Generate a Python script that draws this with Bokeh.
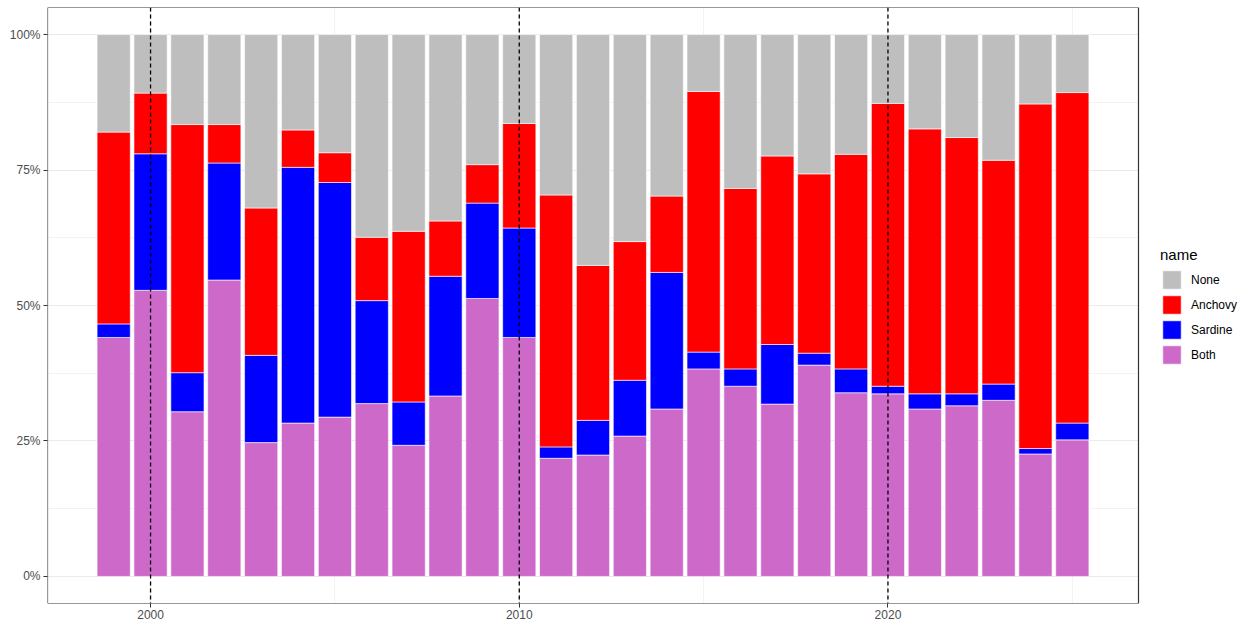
from bokeh.plotting import figure
from bokeh.models import (Range1d, FixedTicker, Span, Legend, LegendItem, ColumnDataSource,
                          BoxAnnotation)
from bokeh.embed import file_html
from bokeh.resources import INLINE

years = list(range(1999, 2026))
both = [44.1, 52.8, 30.4, 54.7, 24.7, 28.3, 29.4, 31.9, 24.2, 33.3, 51.3, 44.1, 21.8, 22.4,
        25.9, 30.9, 38.3, 35.1, 31.8, 39.0, 33.9, 33.7, 30.9, 31.5, 32.5, 22.6, 25.2]
sardine = [2.5, 25.2, 7.2, 21.6, 16.1, 47.2, 43.3, 19.0, 8.0, 22.1, 17.6, 20.2, 2.1, 6.4,
           10.3, 25.2, 3.1, 3.2, 11.0, 2.2, 4.4, 1.4, 2.8, 2.2, 3.0, 1.0, 3.1]
anchovy = [35.4, 11.2, 45.8, 7.1, 27.2, 6.9, 5.5, 11.7, 31.5, 10.2, 7.1, 19.3, 46.5, 28.6,
           25.6, 14.1, 48.1, 33.3, 34.8, 33.1, 39.6, 52.2, 48.9, 47.3, 41.3, 63.6, 61.0]
none = [18.0, 10.8, 16.6, 16.6, 32.0, 17.6, 21.8, 37.4, 36.3, 34.4, 24.0, 16.4, 29.6, 42.6,
        38.2, 29.8, 10.5, 28.4, 22.4, 25.7, 22.1, 12.7, 17.4, 19.0, 23.2, 12.8, 10.7]

series = ["both", "sardine", "anchovy", "none"]
labels = {"none": "None", "anchovy": "Anchovy", "sardine": "Sardine", "both": "Both"}
colors = ["#CD69C9", "#0000FF", "#FF0000", "#BEBEBE"]
y_ticks = [0, 25, 50, 75, 100]
y_tick_labels = ["0%", "25%", "50%", "75%", "100%"]
x_ticks = [2000, 2010, 2020]
vlines = [2000, 2010, 2020]

src = ColumnDataSource(dict(year=years, both=both, sardine=sardine, anchovy=anchovy, none=none))

FONT = "Liberation Sans"

# panel (data) extent, as ggplot expands it
X0, X1 = 1997.205, 2026.795
Y0, Y1 = -5, 105
W, H = 1242, 625
LEFT, TOP, BOTTOM = 47, 7, 22
PANEL_W = 1091
FRAME_W = W - LEFT
x_end = X0 + (X1 - X0) * FRAME_W / PANEL_W  # frame extends right to host the legend

p = figure(width=W, height=H, output_backend="svg", toolbar_location=None,
           x_range=Range1d(X0, x_end), y_range=Range1d(Y0, Y1),
           min_border_left=LEFT, min_border_right=0, min_border_top=TOP,
           min_border_bottom=BOTTOM)

renderers = p.vbar_stack(series, x="year", width=0.9, source=src, color=colors,
                         line_color="white", line_width=0.6)
rmap = dict(zip(series, renderers))

# white cover for the legend area (hides grid lines outside the panel)
cover = BoxAnnotation(left=X1, right=x_end, bottom=Y0, top=Y1, fill_color="white",
                      fill_alpha=1, line_color=None, level="glyph")
p.add_layout(cover)

for v in vlines:
    p.add_layout(Span(location=v, dimension="height", line_color="black",
                      line_dash="4 3", line_width=1.3))

border = BoxAnnotation(left=X0, right=X1, bottom=Y0, top=Y1, fill_alpha=0,
                       line_color="#333333", line_alpha=1, line_width=1.2)
p.add_layout(border)

# axes
p.yaxis.ticker = FixedTicker(ticks=y_ticks, minor_ticks=[12.5, 37.5, 62.5, 87.5])
p.yaxis.major_label_overrides = {t: l for t, l in zip(y_ticks, y_tick_labels)}
p.xaxis.ticker = FixedTicker(ticks=x_ticks, minor_ticks=[2005, 2015, 2025])
for ax in (p.xaxis, p.yaxis):
    ax.axis_line_color = None
    ax.major_tick_line_color = "#333333"
    ax.major_tick_out = 4
    ax.major_tick_in = 0
    ax.minor_tick_line_color = None
    ax.major_label_text_font = FONT
    ax.major_label_text_font_size = "12px"
    ax.major_label_text_color = "#4D4D4D"
    ax.major_label_standoff = 3
p.xaxis.major_label_standoff = 2

for g in (p.xgrid, p.ygrid):
    g.grid_line_color = "#EBEBEB"
    g.grid_line_width = 1.1
    g.minor_grid_line_color = "#EBEBEB"
    g.minor_grid_line_width = 0.6

p.outline_line_color = None
p.background_fill_color = "white"
p.border_fill_color = "white"

items = [LegendItem(label=labels[k], renderers=[rmap[k]]) for k in ["none", "anchovy", "sardine", "both"]]
legend = Legend(items=items, title="name", location=(1113, 237),
                title_text_font=FONT, title_text_font_size="15px", title_text_color="black",
                title_text_font_style="normal", title_standoff=5,
                label_text_font=FONT, label_text_font_size="12px", label_text_color="black",
                glyph_width=23, glyph_height=23, spacing=2, label_standoff=8,
                padding=0, margin=0, border_line_color=None, background_fill_alpha=0)
p.add_layout(legend, "center")

open("out.html", "w").write(file_html(p, INLINE))
